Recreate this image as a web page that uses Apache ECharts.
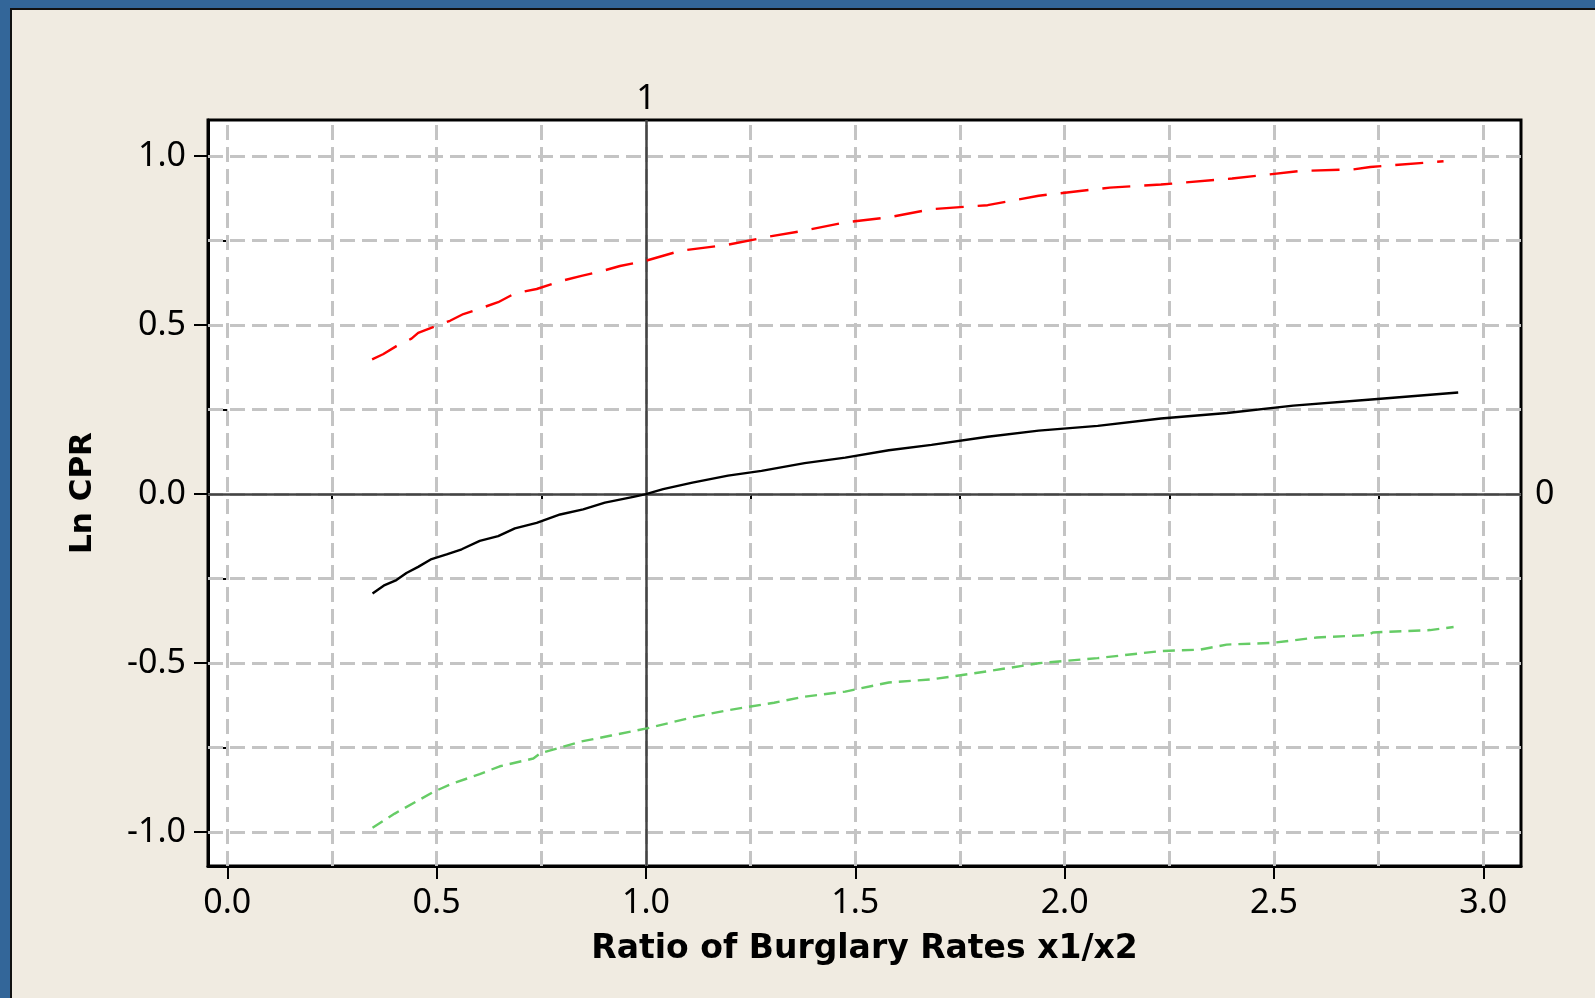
<!DOCTYPE html>
<html>
<head>
<meta charset="utf-8">
<script src="https://cdn.jsdelivr.net/npm/echarts@6/dist/echarts.min.js"></script>
<style>
  html, body { margin: 0; padding: 0; width: 1595px; height: 998px; overflow: hidden; background: #336699; }
  #bg { position: absolute; left: 10px; top: 8px; right: 0; bottom: 0; background: #F0EBE1; border-left: 2px solid #111; border-top: 2px solid #111; }
  #chart { position: absolute; left: 0; top: 0; width: 1595px; height: 998px; }
</style>
</head>
<body>
<div id="bg"></div>
<div id="chart"></div>
<script>
// ---- Data ----
const centerX = [0.347,0.376,0.404,0.428,0.456,0.488,0.524,0.56,0.603,0.647,0.687,0.739,0.795,0.85,0.902,0.97,1.0,1.041,1.111,1.196,1.276,1.379,1.476,1.58,1.682,1.816,1.938,2.079,2.23,2.388,2.546,2.74,2.94];
const centerY = [-0.294,-0.269,-0.254,-0.233,-0.215,-0.192,-0.178,-0.163,-0.138,-0.124,-0.101,-0.085,-0.06,-0.045,-0.025,-0.008,0.0,0.015,0.034,0.055,0.069,0.092,0.108,0.13,0.146,0.17,0.188,0.202,0.224,0.24,0.262,0.281,0.301];

const upperX = [0.346,0.372,0.404,0.44,0.456,0.5,0.532,0.564,0.596,0.647,0.687,0.739,0.795,0.846,0.898,0.938,0.998,1.082,1.196,1.293,1.379,1.476,1.58,1.682,1.816,1.938,2.108,2.23,2.40,2.562,2.69,2.73,2.905];
const upperY = [0.399,0.414,0.438,0.46,0.477,0.498,0.513,0.533,0.546,0.568,0.594,0.607,0.630,0.646,0.661,0.675,0.69,0.72,0.738,0.762,0.78,0.804,0.819,0.843,0.855,0.883,0.907,0.916,0.934,0.956,0.961,0.968,0.985];

const lowerX = [0.347,0.4,0.492,0.532,0.603,0.651,0.731,0.747,0.844,0.917,1.002,1.111,1.196,1.306,1.379,1.476,1.58,1.682,1.816,1.938,2.079,2.23,2.323,2.387,2.495,2.602,2.722,2.737,2.873,2.929];
const lowerY = [-0.987,-0.945,-0.881,-0.859,-0.828,-0.805,-0.782,-0.767,-0.732,-0.714,-0.693,-0.66,-0.639,-0.617,-0.599,-0.584,-0.557,-0.548,-0.524,-0.5,-0.485,-0.464,-0.46,-0.445,-0.44,-0.424,-0.417,-0.409,-0.402,-0.393];

const xMajorTicks = [0, 0.5, 1.0, 1.5, 2.0, 2.5, 3.0];
const xMinorTicks = [0.25, 0.75, 1.25, 1.75, 2.25, 2.75];
const yMajorTicks = [-1.0, -0.5, 0.0, 0.5, 1.0];
const yMinorTicks = [-0.75, -0.25, 0.25, 0.75];
const xGridValues = [0, 0.25, 0.5, 0.75, 1.0, 1.25, 1.5, 1.75, 2.0, 2.25, 2.5, 2.75, 3.0];
const yGridValues = [-1.0, -0.75, -0.5, -0.25, 0.0, 0.25, 0.5, 0.75, 1.0];
const refX = 1;
const refY = 0;
const xTitle = 'Ratio of Burglary Rates x1/x2';
const yTitle = 'Ln CPR';

// ---- Chart ----
const X_MIN = -0.046, X_MAX = 3.09, Y_MIN = -1.1, Y_MAX = 1.107;
const tickFont = { fontFamily: 'Noto Sans', fontSize: 34, color: '#000' };
const xTitleFont = { fontFamily: 'DejaVu Sans', fontSize: 33, fontWeight: 'bold', color: '#000' };
const yTitleFont = { fontFamily: 'DejaVu Sans', fontSize: 31, fontWeight: 'bold', color: '#000' };

const zip = (xs, ys) => xs.map((x, i) => [x, ys[i]]);

const chart = echarts.init(document.getElementById('chart'), null, { renderer: 'canvas' });

const gridLineStyle = { color: '#C4C4C4', width: 3, type: [15, 7] };

const option = {
  animation: false,
  backgroundColor: 'transparent',
  grid: {
    left: 208, right: 74, top: 120, bottom: 132,
    show: true, backgroundColor: '#FFFFFF', borderColor: '#000', borderWidth: 3
  },
  xAxis: [
    {
      type: 'value', min: X_MIN, max: X_MAX, position: 'bottom',
      axisLine: { show: true, onZero: false, lineStyle: { color: '#000', width: 3 } },
      axisTick: { show: true, customValues: xMajorTicks, length: 13, inside: false, lineStyle: { color: '#000', width: 2 } },
      axisLabel: { show: true, customValues: xMajorTicks, margin: 20, formatter: v => v.toFixed(1), ...tickFont },
      splitLine: { show: false },
      name: xTitle, nameLocation: 'middle', nameGap: 67, nameTextStyle: xTitleFont
    },
    {
      type: 'value', min: X_MIN, max: X_MAX, position: 'bottom',
      axisLine: { show: false },
      axisTick: { show: true, customValues: xMinorTicks, length: 9, inside: false, lineStyle: { color: '#000', width: 2 } },
      axisLabel: { show: false },
      splitLine: { show: false }
    }
  ],
  yAxis: [
    {
      type: 'value', min: Y_MIN, max: Y_MAX, position: 'left',
      axisLine: { show: true, onZero: false, lineStyle: { color: '#000', width: 3 } },
      axisTick: { show: true, customValues: yMajorTicks, length: 14, inside: false, lineStyle: { color: '#000', width: 2 } },
      axisLabel: { show: true, customValues: yMajorTicks, margin: 22, formatter: v => v.toFixed(1), ...tickFont },
      splitLine: { show: false },
      name: yTitle, nameLocation: 'middle', nameGap: 110, nameRotate: 90, nameTextStyle: yTitleFont
    },
    {
      type: 'value', min: Y_MIN, max: Y_MAX, position: 'left',
      axisLine: { show: false },
      axisTick: { show: true, customValues: yMinorTicks, length: 10, inside: false, lineStyle: { color: '#000', width: 2 } },
      axisLabel: { show: false },
      splitLine: { show: false }
    }
  ],
  series: [
    {
      name: 'grid', type: 'line', xAxisIndex: 0, yAxisIndex: 0, data: [], z: 1, silent: true,
      markLine: {
        silent: true, symbol: ['none', 'none'], animation: false,
        label: { show: false },
        lineStyle: gridLineStyle,
        emphasis: { disabled: true },
        data: xGridValues.map(v => ({ xAxis: v })).concat(yGridValues.map(v => ({ yAxis: v })))
      }
    },
    {
      name: 'ref', type: 'line', xAxisIndex: 0, yAxisIndex: 0, data: [], z: 2, silent: true,
      markLine: {
        silent: true, symbol: ['none', 'none'], animation: false,
        lineStyle: { color: '#444', width: 2.5, type: 'solid' },
        emphasis: { disabled: true },
        data: [
          { xAxis: refX, label: { show: true, position: 'end', distance: 4, formatter: String(refX), ...tickFont } },
          { yAxis: refY, label: { show: true, position: 'end', distance: 14, formatter: String(refY), ...tickFont } }
        ]
      }
    },
    {
      name: 'Upper', type: 'line', xAxisIndex: 0, yAxisIndex: 0, z: 5,
      data: zip(upperX, upperY), showSymbol: false, symbol: 'none',
      lineStyle: { color: '#FF0000', width: 2.4, type: [28, 14] }
    },
    {
      name: 'Center', type: 'line', xAxisIndex: 0, yAxisIndex: 0, z: 5,
      data: zip(centerX, centerY), showSymbol: false, symbol: 'none',
      lineStyle: { color: '#000000', width: 2.4, type: 'solid' }
    },
    {
      name: 'Lower', type: 'line', xAxisIndex: 0, yAxisIndex: 0, z: 5,
      data: zip(lowerX, lowerY), showSymbol: false, symbol: 'none',
      lineStyle: { color: '#66CC66', width: 2.4, type: [12, 7] }
    }
  ]
};
chart.setOption(option);
</script>
</body>
</html>
